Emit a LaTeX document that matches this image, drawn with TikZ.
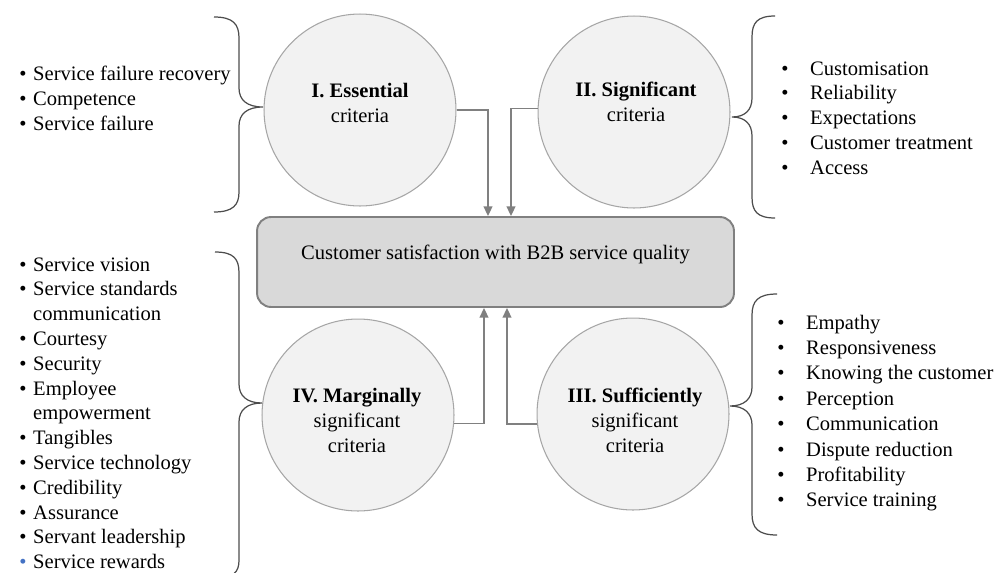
\documentclass[tikz,border=0pt]{standalone}
\usepackage{fontspec}
\setmainfont{Liberation Serif}
\usetikzlibrary{arrows.meta,calc}

\definecolor{circlefill}{HTML}{F2F2F2}
\definecolor{circleline}{HTML}{A6A6A6}
\definecolor{boxfill}{HTML}{D9D9D9}
\definecolor{boxline}{HTML}{808080}
\definecolor{flowline}{HTML}{808080}
\definecolor{braceline}{HTML}{4D4D4D}
\definecolor{bulletblue}{HTML}{4472C4}

\newcommand{\lbul}{\makebox[7.9pt][l]{\textbullet}}
\newcommand{\lblue}{\makebox[7.9pt][l]{\textcolor{bulletblue}{\textbullet}}}
\newcommand{\lcont}{\hspace*{7.9pt}}
\newcommand{\rbul}{\makebox[16.4pt][l]{\textbullet}}

\begin{document}
\begin{tikzpicture}[x=0.02cm, y=-0.02cm,
    font=\fontsize{11.7}{14.4}\selectfont,
    criterion/.style={circle, draw=circleline, fill=circlefill, line width=0.6pt,
      minimum size=3.84cm, inner sep=0pt},
    critlabel/.style={anchor=base, inner sep=0pt},
    goalbox/.style={draw=boxline, fill=boxfill, line width=1.1pt, rounded corners=0.28cm,
      minimum width=9.54cm, minimum height=1.8cm, text height=7.7pt, text depth=10pt},
    item/.style={anchor=base west, inner sep=0pt},
    flow/.style={draw=flowline, line width=0.9pt, -{Triangle[length=5.5pt,width=5pt]}},
    bracket/.style={draw=braceline, line width=0.7pt}]
  \clip (0,0) rectangle (1006,572);

  % criteria circles
  \node[criterion] (cI) at (360,110) {};
  \node[criterion] (cII) at (634,112) {};
  \node[criterion] (cIV) at (358,415) {};
  \node[criterion] (cIII) at (633,414) {};
  \node[critlabel] (lI) at (360,97) {\begin{tabular}[t]{@{}c@{}}\textbf{I. Essential}\\criteria\end{tabular}};
  \node[critlabel] (lII) at (636,96) {\begin{tabular}[t]{@{}c@{}}\textbf{II. Significant}\\criteria\end{tabular}};
  \node[critlabel] (lIV) at (357,402) {\begin{tabular}[t]{@{}c@{}}\textbf{IV. Marginally}\\significant\\criteria\end{tabular}};
  \node[critlabel] (lIII) at (635,402) {\begin{tabular}[t]{@{}c@{}}\textbf{III. Sufficiently}\\significant\\criteria\end{tabular}};

  % goal
  \node[goalbox] (goal) at (495.5,262) {Customer satisfaction with B2B service quality};

  \draw[flow] (cI.east) -| ($(goal.north)+(-7.5,0)$);
  \draw[flow] (cII.178) -| ($(goal.north)+(15.5,0)$);
  \draw[flow] (cIV.-5) -| ($(goal.south)+(-11.5,0)$);
  \draw[flow] (cIII.186) -| ($(goal.south)+(11.5,0)$);

  % lists
  \foreach \txt [count=\i] in {Service failure recovery, Competence, Service failure}
    \node[item] (ess\i) at (19,{55+25*\i}) {\lbul\txt};
  \foreach \txt [count=\i] in {\lbul Service vision, \lbul Service standards, \lcont communication,
      \lbul Courtesy, \lbul Security, \lbul Employee, \lcont empowerment, \lbul Tangibles,
      \lbul Service technology, \lbul Credibility, \lbul Assurance, \lbul Servant leadership,
      \lblue Service rewards}
    \node[item] (mar\i) at (19,{246.2+24.8*\i}) {\txt};
  \foreach \txt [count=\i] in {Customisation, Reliability, Expectations, Customer treatment, Access}
    \node[item] (sig\i) at (781,{50.2+24.8*\i}) {\rbul\txt};
  \foreach \txt [count=\i] in {Empathy, Responsiveness, Knowing the customer, Perception,
      Communication, Dispute reduction, Profitability, Service training}
    \node[item] (suf\i) at (777,{303.6+25.4*\i}) {\rbul\txt};

  % braces
  \draw[bracket] (214,17) .. controls (233,17) and (239,24) .. (239,38) -- (239,88)
    .. controls (239,100) and (247,107) .. (263,107) .. controls (247,107) and (239,114) .. (239,126)
    -- (239,192) .. controls (239,205) and (233,212) .. (214,212);
  \draw[bracket] (215,252) .. controls (234,252) and (239,259) .. (239,273) -- (239,384)
    .. controls (239,396) and (247,403) .. (262,403) .. controls (247,403) and (239,410) .. (239,422)
    -- (239,560) .. controls (239,572) and (234,578) .. (215,578);
  \draw[bracket] (775,16) .. controls (757,16) and (752,23) .. (752,37) -- (752,98)
    .. controls (752,110) and (745,117) .. (732,117) .. controls (745,117) and (752,124) .. (752,136)
    -- (752,197) .. controls (752,211) and (757,218) .. (775,218);
  \draw[bracket] (777,294) .. controls (758,294) and (752,301) .. (752,315) -- (752,387)
    .. controls (752,399) and (744,406) .. (730,406) .. controls (744,406) and (752,413) .. (752,425)
    -- (752,514) .. controls (752,528) and (758,535) .. (777,535);
\end{tikzpicture}
\end{document}
